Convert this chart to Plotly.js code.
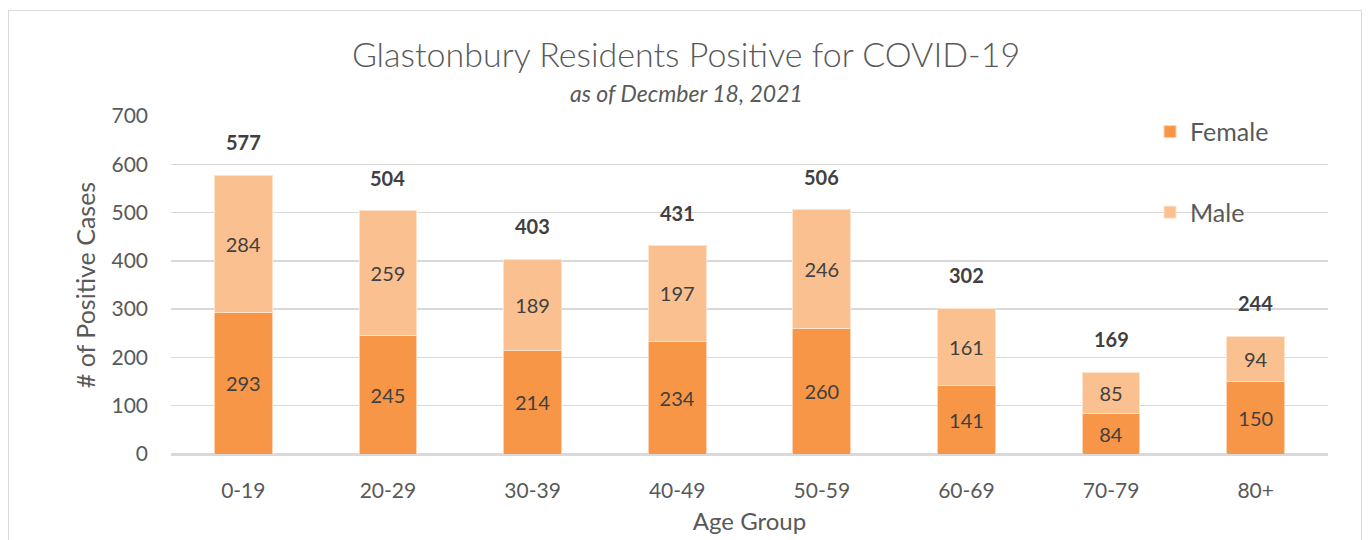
<!DOCTYPE html>
<html>
<head>
<meta charset="utf-8">
<script src="https://cdn.plot.ly/plotly-3.0.1.min.js"></script>
<style>
  html, body { margin: 0; padding: 0; background: #fff; }
  #wrap { position: relative; width: 1368px; height: 540px; overflow: hidden; }
  #chart { width: 1368px; height: 540px; }
  #frame { position: absolute; left: 8px; top: 10px; width: 1354px; height: 560px;
           border: 1.5px solid #d9d9d9; pointer-events: none; box-sizing: border-box; }
</style>
</head>
<body>
<div id="wrap">
  <div id="chart"></div>
  <div id="frame"></div>
</div>
<script>
const categories = ["0-19", "20-29", "30-39", "40-49", "50-59", "60-69", "70-79", "80+"];
const female = [293, 245, 214, 234, 260, 141, 84, 150];
const male = [284, 259, 189, 197, 246, 161, 85, 94];
const totals = [577, 504, 403, 431, 506, 302, 169, 244];
const yTicks = [0, 100, 200, 300, 400, 500, 600, 700];

const FONT = "Lato, 'Open Sans', sans-serif";
const GREY = "#595959";
const DARK = "#404040";

const traces = [
  {
    type: "bar", name: "Female", x: categories, y: female,
    text: female.map(String), textposition: "inside", insidetextanchor: "middle",
    textfont: { family: FONT, size: 20, color: DARK },
    marker: { color: "#F79646", line: { color: "#FBD3B0", width: 1 } },
    legendgroup: "f", hoverinfo: "x+y", constraintext: "none"
  },
  {
    type: "bar", name: "Male", x: categories, y: male,
    text: male.map(String), textposition: "inside", insidetextanchor: "middle",
    textfont: { family: FONT, size: 20, color: DARK },
    marker: { color: "#FAC090", line: { color: "#FDE3CC", width: 1 } },
    legendgroup: "m", hoverinfo: "x+y", constraintext: "none"
  }
];

const annotations = categories.map((c, i) => ({
  x: c, y: totals[i], xref: "x", yref: "y",
  text: "<b>" + totals[i] + "</b>", showarrow: false,
  yanchor: "bottom", yshift: 19,
  font: { family: FONT, size: 20, color: DARK }
}));
annotations.push({
  x: (686 - 171) / 1157, xref: "paper", y: 1.068, yref: "paper", xanchor: "center", yanchor: "middle",
  text: "<i>as of Decmber 18, 2021</i>", showarrow: false,
  font: { family: FONT, size: 23, color: GREY, weight: 400 }
});

const layout = {
  width: 1368, height: 540,
  margin: { l: 171, r: 40, t: 116, b: 86, pad: 0 },
  paper_bgcolor: "#ffffff", plot_bgcolor: "#ffffff",
  barmode: "stack", bargap: 0.6,
  font: { family: FONT, color: GREY },
  title: {
    text: "Glastonbury Residents Positive for COVID-19",
    x: 686 / 1368, xanchor: "center", xref: "container",
    y: 1 - 55 / 540, yanchor: "middle", yref: "container",
    font: { family: FONT, size: 34, color: GREY, weight: 300 }
  },
  xaxis: {
    type: "category", showgrid: false, showline: true, linecolor: "#d9d9d9", linewidth: 1.5,
    ticks: "", tickfont: { family: FONT, size: 21, color: GREY }, ticklabelstandoff: 17,
    title: { text: "Age Group", font: { family: FONT, size: 24, color: GREY }, standoff: 12 }
  },
  yaxis: {
    range: [0, 700], tickvals: yTicks, ticktext: yTicks.map(String),
    showgrid: true, gridcolor: "#d9d9d9", gridwidth: 1.5,
    zeroline: true, zerolinecolor: "#d9d9d9", zerolinewidth: 1.5,
    showline: false, ticks: "",
    tickfont: { family: FONT, size: 21, color: GREY }, ticklabelstandoff: 22,
    title: { text: "# of Positive Cases", font: { family: FONT, size: 25, color: GREY }, standoff: 8 }
  },
  legend: {
    x: (1150 - 171) / 1157, xanchor: "left", y: 1.021, yanchor: "top",
    traceorder: "grouped", tracegroupgap: 45, bgcolor: "rgba(0,0,0,0)",
    font: { family: FONT, size: 25, color: GREY }
  },
  annotations: annotations,
  showlegend: true
};

Plotly.newPlot("chart", traces, layout, { displayModeBar: false, staticPlot: true });
</script>
</body>
</html>
